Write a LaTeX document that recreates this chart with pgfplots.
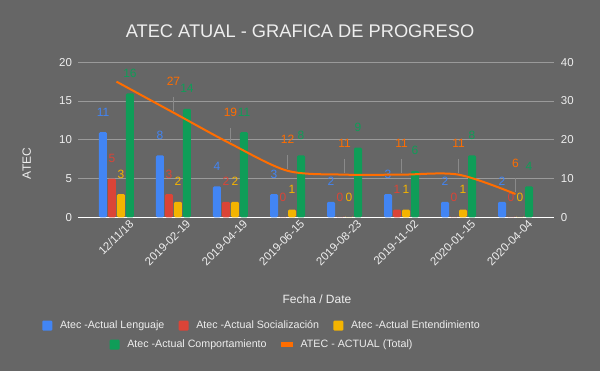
\documentclass[border=0pt]{standalone}
\usepackage{pgfplots}
\pgfplotsset{compat=1.18}
\usepackage{pgfplotstable}
\usepackage{fontspec}
\setmainfont{Liberation Sans}
\definecolor{bg}{HTML}{666666}
\definecolor{gridc}{HTML}{9A9A9A}
\definecolor{txt}{HTML}{EEEEEE}
\definecolor{cB}{HTML}{4285F4}
\definecolor{cR}{HTML}{DB4437}
\definecolor{cY}{HTML}{F4B400}
\definecolor{cG}{HTML}{0F9D58}
\definecolor{cO}{HTML}{FF6D00}
\definecolor{lead}{HTML}{8A8A8A}

\pgfplotstableread{
x len soc ent com tot
0 11 5 3 16 35
1 8 3 2 14 27
2 4 2 2 11 19
3 3 0 1 8 12
4 2 0 0 9 11
5 3 1 1 6 11
6 2 0 1 8 11
7 2 0 0 4 6
}\data

\pgfplotsset{
  /pgf/number format/assume math mode=true,
  common/.style={
    at={(58.5pt,115.3pt)}, anchor=south west,
    scale only axis, width=357pt, height=116.25pt,
    xmin=-0.675, xmax=7.675,
    axis line style={draw=none},
    major tick length=0pt,
    tick label style={font=\fontsize{8.6}{9}\selectfont, text=txt, inner sep=0pt},
  },
  sq/.style={legend image code/.code={\fill[##1, rounded corners=0.8pt] (0pt,-3.75pt) rectangle (7.5pt,3.75pt);}},
  legstyle/.style={legend style={draw=none, fill=none, font=\fontsize{8}{9}\selectfont, text=txt,
    /tikz/every odd column/.append style={column sep=5.8pt},
    /tikz/every even column/.append style={column sep=10.7pt},
    nodes={inner sep=0pt}}},
}

\begin{document}
\begin{tikzpicture}
\fill[bg] (0pt,0pt) rectangle (450pt,278.25pt);
\node[text=txt, font=\fontsize{13.7}{14}\selectfont] at (225pt,255.2pt) {ATEC ATUAL - GRAFICA DE PROGRESO};

\begin{axis}[common, legstyle,
  ymin=0, ymax=20, ytick={0,5,10,15,20},
  ymajorgrids, grid style={gridc, line width=0.75pt},
  extra y ticks={0}, extra y tick labels={},
  extra y tick style={grid=major, major grid style={white, line width=0.9pt}},
  xtick={0,...,7},
  xticklabels={12/11/18,2019-02-19,2019-04-19,2019-06-15,2019-08-23,2019-11-02,2020-01-15,2020-04-04},
  xticklabel style={rotate=45, anchor=north east, xshift=5.6pt, yshift=-7.2pt},
  yticklabel style={xshift=-4.3pt},
  ybar=0.75pt, bar width=6pt,
  nodes near coords,
  every node near coord/.append style={font=\fontsize{9}{9}\selectfont, anchor=center, yshift=15pt},
  ylabel={ATEC}, ylabel style={at={(axis description cs:-0.1078,0.347)}, anchor=center, font=\fontsize{9}{9}\selectfont, text=txt},
  xlabel={Fecha / Date}, xlabel style={at={(axis description cs:0.502,-0.527)}, anchor=center, font=\fontsize{9}{9}\selectfont, text=txt},
  legend columns=3,
  legend style={at={(axis description cs:0.3845,-0.699)}, anchor=center},
]
\addplot[sq, fill=cB, draw=none, rounded corners=1pt, every node near coord/.append style={text=cB}] table[x=x,y=len]{\data};
\addlegendentry{Atec -Actual Lenguaje}
\addplot[sq, fill=cR, draw=none, rounded corners=1pt, every node near coord/.append style={text=cR}] table[x=x,y=soc]{\data};
\addlegendentry{Atec -Actual Socialización}
\addplot[sq, fill=cY, draw=none, rounded corners=1pt, every node near coord/.append style={text=cY}] table[x=x,y=ent]{\data};
\addlegendentry{Atec -Actual Entendimiento}
\addplot[fill=cG, draw=none, rounded corners=1pt, every node near coord/.append style={text=cG}] table[x=x,y=com]{\data};
\end{axis}

\begin{axis}[common, legstyle,
  ymin=0, ymax=40, ytick={0,10,20,30,40},
  axis x line=none, axis y line*=right,
  yticklabel style={xshift=5pt},
  legend columns=2,
  legend style={at={(axis description cs:0.3845,-0.822)}, anchor=center},
]
\addlegendimage{sq, fill=cG, draw=none}
\addlegendentry{Atec -Actual Comportamiento}
\addplot[cO, line width=1.5pt, smooth, tension=0.5, mark=none,
  legend image code/.code={\fill[cO] (0pt,-1.3pt) rectangle (7.5pt,1.3pt);}] table[x=x,y=tot]{\data};
\addlegendentry{ATEC - ACTUAL (Total)}
\addplot[only marks, mark=|, mark size=5.25pt, mark options={draw=lead, line width=0.75pt, yshift=6.75pt},
  nodes near coords,
  every node near coord/.append style={font=\fontsize{9}{9}\selectfont, text=cO, anchor=center, yshift=16.5pt},
  forget plot] coordinates {(1,27) (2,19) (3,12) (4,11) (5,11) (6,11) (7,6)};
\end{axis}
\pgfresetboundingbox
\useasboundingbox (0pt,0pt) rectangle (450pt,278.25pt);
\end{tikzpicture}
\end{document}
